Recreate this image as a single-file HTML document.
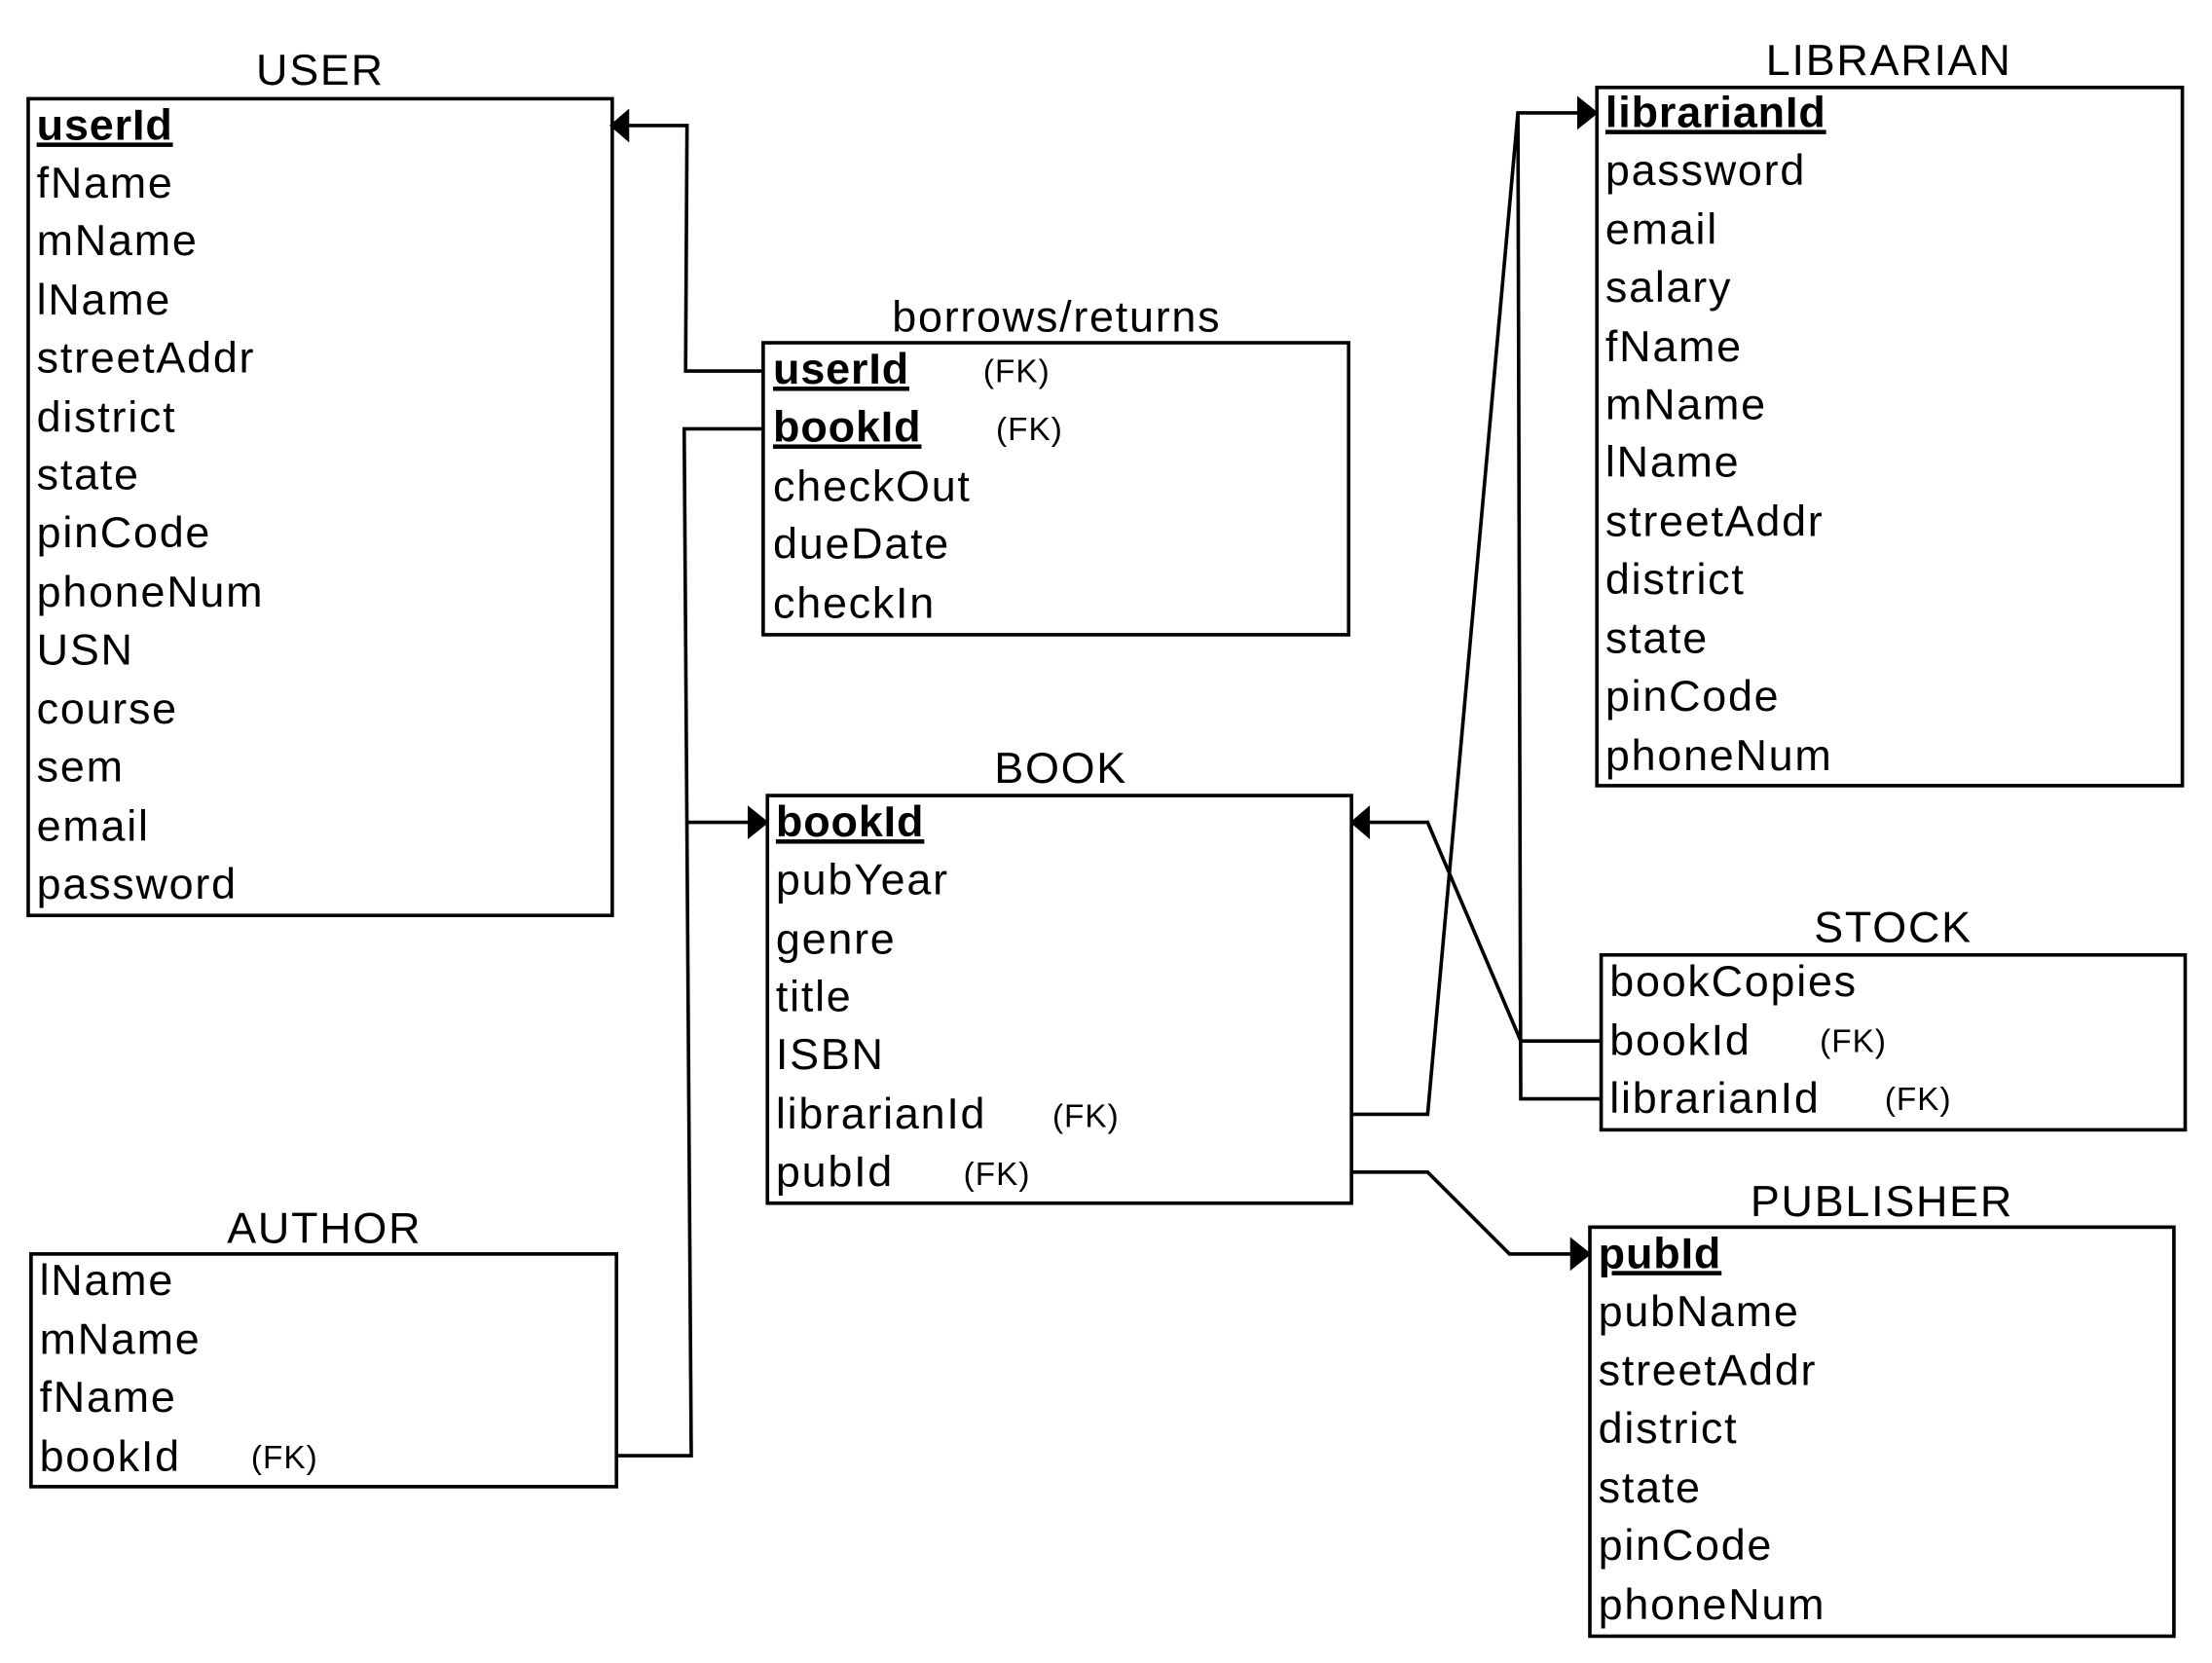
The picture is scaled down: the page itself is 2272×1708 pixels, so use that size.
<!DOCTYPE html>
<html><head><meta charset="utf-8"><style>
html,body{margin:0;padding:0;background:#fff;}
svg{display:block;}
text{font-family:"Liberation Sans",sans-serif;fill:#000;}
.r{font-size:31px;letter-spacing:1.2px;}
.t{font-size:31px;letter-spacing:1.2px;}
.k{font-size:31px;font-weight:bold;text-decoration:underline;letter-spacing:0.6px;}
.f{font-size:23px;letter-spacing:0.7px;}
</style></head><body>
<svg width="2272" height="1708" viewBox="0 0 1568 1179" preserveAspectRatio="none" xmlns="http://www.w3.org/2000/svg">
<g fill="none" stroke="#000" stroke-width="2.5">
<rect x="20" y="70" width="414" height="579"/>
<rect x="541" y="243" width="415" height="207"/>
<rect x="544" y="564" width="414" height="289"/>
<rect x="22" y="889" width="415" height="165"/>
<rect x="1132" y="62" width="415" height="495"/>
<rect x="1135" y="677" width="414" height="124"/>
<rect x="1127" y="870" width="414" height="290"/>
<polyline points="541,263 486,263 487,89 440,89"/>
<polyline points="541,304 485,304 490,1032 437,1032"/>
<polyline points="488,583 538,583"/>
<polyline points="958,790 1012,790 1076,80 1126,80"/>
<polyline points="1135,779 1078,779 1076,80"/>
<polyline points="1135,738 1078,738 1012,583 964,583"/>
<polyline points="958,831 1012,831 1070,889 1121,889"/>
</g>
<g fill="#000">
<polygon points="432,89 446,77 446,101"/>
<polygon points="545,583 530,571 530,595"/>
<polygon points="957,583 971,571 971,595"/>
<polygon points="1133,80 1118,68 1118,92"/>
<polygon points="1128,889 1113,877 1113,901"/>
</g>
<text class="t" x="227" y="60" text-anchor="middle">USER</text>
<text class="k" x="26" y="99">userId</text>
<text class="r" x="26" y="140">fName</text>
<text class="r" x="26" y="181">mName</text>
<text class="r" x="26" y="223">lName</text>
<text class="r" x="26" y="264">streetAddr</text>
<text class="r" x="26" y="306">district</text>
<text class="r" x="26" y="347">state</text>
<text class="r" x="26" y="388">pinCode</text>
<text class="r" x="26" y="430">phoneNum</text>
<text class="r" x="26" y="471">USN</text>
<text class="r" x="26" y="513">course</text>
<text class="r" x="26" y="554">sem</text>
<text class="r" x="26" y="596">email</text>
<text class="r" x="26" y="637">password</text>

<text class="t" x="749" y="235" text-anchor="middle">borrows/returns</text>
<text class="k" x="548" y="272">userId</text><text class="f" x="697" y="271">(FK)</text>
<text class="k" x="548" y="313">bookId</text><text class="f" x="706" y="312">(FK)</text>
<text class="r" x="548" y="355">checkOut</text>
<text class="r" x="548" y="396">dueDate</text>
<text class="r" x="548" y="438">checkIn</text>

<text class="t" x="752" y="555" text-anchor="middle">BOOK</text>
<text class="k" x="550" y="593">bookId</text>
<text class="r" x="550" y="634">pubYear</text>
<text class="r" x="550" y="676">genre</text>
<text class="r" x="550" y="717">title</text>
<text class="r" x="550" y="758">ISBN</text>
<text class="r" x="550" y="800">librarianId</text><text class="f" x="746" y="799">(FK)</text>
<text class="r" x="550" y="841">pubId</text><text class="f" x="683" y="840">(FK)</text>

<text class="t" x="230" y="881" text-anchor="middle">AUTHOR</text>
<text class="r" x="28" y="918">lName</text>
<text class="r" x="28" y="960">mName</text>
<text class="r" x="28" y="1001">fName</text>
<text class="r" x="28" y="1043">bookId</text><text class="f" x="178" y="1041">(FK)</text>

<text class="t" x="1339" y="53" text-anchor="middle">LIBRARIAN</text>
<text class="k" x="1138" y="90">librarianId</text>
<text class="r" x="1138" y="131">password</text>
<text class="r" x="1138" y="173">email</text>
<text class="r" x="1138" y="214">salary</text>
<text class="r" x="1138" y="256">fName</text>
<text class="r" x="1138" y="297">mName</text>
<text class="r" x="1138" y="338">lName</text>
<text class="r" x="1138" y="380">streetAddr</text>
<text class="r" x="1138" y="421">district</text>
<text class="r" x="1138" y="463">state</text>
<text class="r" x="1138" y="504">pinCode</text>
<text class="r" x="1138" y="546">phoneNum</text>

<text class="t" x="1342" y="668" text-anchor="middle">STOCK</text>
<text class="r" x="1141" y="706">bookCopies</text>
<text class="r" x="1141" y="748">bookId</text><text class="f" x="1290" y="746">(FK)</text>
<text class="r" x="1141" y="789">librarianId</text><text class="f" x="1336" y="787">(FK)</text>

<text class="t" x="1334" y="862" text-anchor="middle">PUBLISHER</text>
<text class="k" x="1133" y="899">pubId</text>
<text class="r" x="1133" y="940">pubName</text>
<text class="r" x="1133" y="982">streetAddr</text>
<text class="r" x="1133" y="1023">district</text>
<text class="r" x="1133" y="1065">state</text>
<text class="r" x="1133" y="1106">pinCode</text>
<text class="r" x="1133" y="1148">phoneNum</text>
</svg>
</body></html>
